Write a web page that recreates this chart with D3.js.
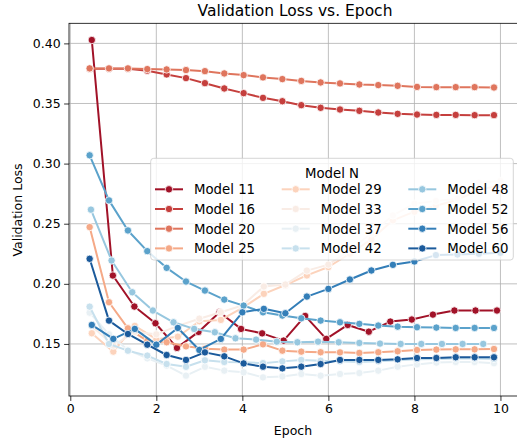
<!DOCTYPE html>
<html><head><meta charset="utf-8">
<script src="https://cdn.jsdelivr.net/npm/d3@7"></script>
<style>body{margin:0;background:#fff}svg{display:block}text{font-family:"DejaVu Sans",sans-serif}</style>
</head><body><svg id="c" width="517" height="441"></svg>
<script>
// ---- data ----
const modelNames = ["Model 11","Model 16","Model 20","Model 25","Model 29","Model 33","Model 37","Model 42","Model 48","Model 52","Model 56","Model 60"];
const colors = ["#a11228","#c53f3d","#df755d","#f5a987","#fcd3bc","#f9ece5","#e8f0f4","#c7e0ed","#97c7df","#5ba2cb","#337eb8","#1b5a9b"];
// epoch grids (evaluation points differ per model)
const epochs22 = [0.45,0.9,1.34,1.79,2.24,2.69,3.13,3.58,4.03,4.48,4.93,5.37,5.82,6.27,6.72,7.16,7.61,8.06,8.51,8.96,9.4,9.85];
const epochs20 = [0.5,1,1.5,2,2.5,3,3.5,4,4.5,5,5.5,6,6.5,7,7.5,8,8.5,9,9.5,10];
const epochs20b = [0.5,0.99,1.49,1.98,2.48,2.98,3.47,3.97,4.46,4.96,5.46,5.95,6.45,6.94,7.44,7.94,8.43,8.93,9.42,9.92];
const epochs20c = [0.48,0.96,1.44,1.92,2.4,2.88,3.36,3.84,4.32,4.8,5.28,5.76,6.24,6.72,7.2,7.68,8.16,8.64,9.12,9.6];
const m11 = [0.4028,0.2069,0.1811,0.1672,0.1467,0.1600,0.1763,0.1625,0.1588,0.1528,0.1733,0.1542,0.1658,0.1602,0.1686,0.1703,0.1744,0.1778,0.1778,0.1778];
const m16 = [0.3790,0.3790,0.3788,0.3773,0.3742,0.3711,0.3669,0.3625,0.3586,0.3547,0.3519,0.3486,0.3464,0.3450,0.3439,0.3425,0.3414,0.3408,0.3405,0.3405,0.3403,0.3403];
const m20 = [0.3792,0.3792,0.3792,0.3786,0.3783,0.3778,0.3769,0.3750,0.3736,0.3717,0.3703,0.3688,0.3675,0.3667,0.3658,0.3653,0.3647,0.3638,0.3636,0.3636,0.3636,0.3633];
const m25 = [0.2472,0.1847,0.1630,0.1525,0.1514,0.1480,0.1460,0.1453,0.1453,0.1497,0.1444,0.1436,0.1431,0.1430,0.1425,0.1431,0.1439,0.1450,0.1453,0.1455,0.1455,0.1458];
const m29 = [0.1589,0.1436,0.1650,0.1540,0.1560,0.1689,0.1700,0.1800,0.1917,0.1990,0.2070,0.2140,0.2250,0.2370,0.2528,0.2600,0.2650,0.2700,0.2780,0.2820];
const m33 = [0.1650,0.1486,0.1600,0.1580,0.1650,0.1710,0.1763,0.1820,0.1978,0.1994,0.2110,0.2160,0.2280,0.2420,0.2569,0.2667,0.2690,0.2708,0.2842,0.2855];
const m37 = [0.1760,0.1580,0.1450,0.1380,0.1320,0.1236,0.1310,0.1278,0.1264,0.1222,0.1230,0.1250,0.1236,0.1250,0.1258,0.1278,0.1311,0.1330,0.1345,0.1350,0.1350,0.1340];
const m42 = [0.1810,0.1500,0.1444,0.1403,0.1333,0.1310,0.1364,0.1350,0.1347,0.1340,0.1355,0.1367,0.1360,0.1355,0.1350,0.1355,0.1365,0.1372,0.1375,0.1378,0.1378,0.1375];
const m48 = [0.2617,0.2194,0.1930,0.1778,0.1680,0.1625,0.1597,0.1547,0.1536,0.1519,0.1514,0.1519,0.1514,0.1508,0.1503,0.1500,0.1500,0.1500,0.1500,0.1500];
const m52 = [0.3069,0.2694,0.2444,0.2272,0.2133,0.2019,0.1944,0.1869,0.1819,0.1763,0.1736,0.1713,0.1694,0.1680,0.1667,0.1653,0.1644,0.1639,0.1636,0.1633,0.1633,0.1633];
const m56 = [0.1658,0.1542,0.1625,0.1494,0.1633,0.1450,0.1542,0.1763,0.1792,0.1755,0.1894,0.1958,0.2036,0.2111,0.2158,0.2186,0.2239,0.2244,0.2250,0.2258];
const m60 = [0.2208,0.1694,0.1583,0.1494,0.1408,0.1367,0.1430,0.1397,0.1338,0.1311,0.1297,0.1311,0.1333,0.1367,0.1367,0.1367,0.1372,0.1383,0.1383,0.1389,0.1389,0.1389];
const xTicks = [0,2,4,6,8,10];
const yTicks = [0.15,0.20,0.25,0.30,0.35,0.40];
const titleText = "Validation Loss vs. Epoch";
const xLabel = "Epoch", yLabel = "Validation Loss", legendTitle = "Model N";

const seriesX = [epochs20b,epochs22,epochs22,epochs22,epochs20,epochs20,epochs22,epochs22,epochs20c,epochs22,epochs20,epochs22];
const seriesY = [m11,m16,m20,m25,m29,m33,m37,m42,m48,m52,m56,m60];
const series = modelNames.map((n,i)=>({name:n,color:colors[i],pts:seriesX[i].map((x,j)=>({x,y:seriesY[i][j]}))}));

// ---- layout ----
const svg = d3.select("#c");
const L = 69, R = 521, T = 23.3, B = 396;
const x = d3.scaleLinear().domain([-0.03,10.478]).range([L,R]);
const y = d3.scaleLinear().domain([0.1067,0.4167]).range([B,T]);

const g = svg.append("g");
// grid
g.append("g").selectAll("line").data(xTicks).join("line")
  .attr("x1",d=>x(d)).attr("x2",d=>x(d)).attr("y1",T).attr("y2",B)
  .attr("stroke","#b0b0b0").attr("stroke-width",0.8);
g.append("g").selectAll("line").data(yTicks).join("line")
  .attr("x1",L).attr("x2",R).attr("y1",d=>y(d)).attr("y2",d=>y(d))
  .attr("stroke","#b0b0b0").attr("stroke-width",0.8);

// series
const line = d3.line().x(d=>x(d.x)).y(d=>y(d.y));
series.forEach(s=>{
  const sg = g.append("g");
  sg.append("path").datum(s.pts).attr("d",line).attr("fill","none")
    .attr("stroke",s.color).attr("stroke-width",2).attr("stroke-linejoin","round");
  sg.selectAll("circle").data(s.pts).join("circle")
    .attr("cx",d=>x(d.x)).attr("cy",d=>y(d.y)).attr("r",3.7)
    .attr("fill",s.color).attr("stroke","#fff").attr("stroke-width",0.8);
});

// axes
const xa = svg.append("g").attr("transform",`translate(0,${B})`)
  .call(d3.axisBottom(x).tickValues(xTicks).tickFormat(d3.format("d")).tickSize(4.9).tickPadding(3.5));
const ya = svg.append("g").attr("transform",`translate(${L},0)`)
  .call(d3.axisLeft(y).tickValues(yTicks).tickFormat(d3.format(".2f")).tickSize(4.9).tickPadding(3.5));
[xa,ya].forEach(a=>{a.select(".domain").remove();a.selectAll("line").attr("stroke","#000").attr("stroke-width",0.8);
  a.selectAll("text").attr("fill","#000").style("font-size","12.5px").style("font-family","DejaVu Sans");});
// spines
svg.append("rect").attr("x",L).attr("y",T).attr("width",R-L).attr("height",B-T)
  .attr("fill","none").attr("stroke","#000").attr("stroke-width",0.8);

// labels
svg.append("text").attr("x",295).attr("y",16).attr("text-anchor","middle").style("font-size","15.5px").text(titleText);
svg.append("text").attr("x",293).attr("y",435).attr("text-anchor","middle").style("font-size","12.5px").text(xLabel);
svg.append("text").attr("transform","translate(22,210) rotate(-90)").attr("text-anchor","middle").style("font-size","12.5px").text(yLabel);

// legend
const lg = svg.append("g");
const lx = 150.7, ly = 158.3, lw = 362.6, lh = 101.7;
lg.append("rect").attr("x",lx).attr("y",ly).attr("width",lw).attr("height",lh).attr("rx",3)
  .attr("fill","#fff").attr("fill-opacity",0.8).attr("stroke","#cccccc").attr("stroke-width",0.8);
lg.append("text").attr("x",lx+lw/2).attr("y",ly+19.5).attr("text-anchor","middle").style("font-size","13.3px").text(legendTitle);
const colX = [155,281.7,408.3];
const rowY = [189.3,209,228.7,248.4];
series.forEach((s,i)=>{
  const c = Math.floor(i/4), r = i%4;
  const hx = colX[c], hy = rowY[r];
  lg.append("line").attr("x1",hx).attr("x2",hx+28).attr("y1",hy).attr("y2",hy).attr("stroke",s.color).attr("stroke-width",2);
  lg.append("circle").attr("cx",hx+14).attr("cy",hy).attr("r",3.7).attr("fill",s.color).attr("stroke","#fff").attr("stroke-width",0.8);
  lg.append("text").attr("x",hx+39).attr("y",hy+4.8).style("font-size","13.3px").text(s.name);
});
</script></body></html>
